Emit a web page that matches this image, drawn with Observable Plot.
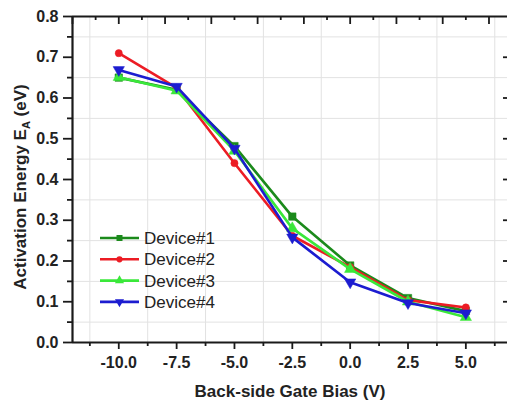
<!DOCTYPE html>
<html>
<head>
<meta charset="utf-8">
<script src="https://cdn.jsdelivr.net/npm/d3@7"></script>
<script src="https://cdn.jsdelivr.net/npm/@observablehq/plot@0.6"></script>
<style>
  html, body { margin: 0; padding: 0; background: #fff; overflow: hidden; }
  #chart { position: relative; width: 507px; height: 404px; }
  svg { font-family: "Liberation Sans", Arial, sans-serif; }
</style>
</head>
<body>
<div id="chart"></div>
<script>
// ---- data ----
const bias = [-10, -7.5, -5, -2.5, 0, 2.5, 5];
const device1 = [0.650, 0.620, 0.482, 0.309, 0.189, 0.109, 0.077];
const device2 = [0.710, 0.625, 0.440, 0.262, 0.185, 0.104, 0.086];
const device3 = [0.651, 0.618, 0.470, 0.280, 0.180, 0.100, 0.062];
const device4 = [0.669, 0.628, 0.476, 0.258, 0.148, 0.097, 0.072];
const deviceNames = ["Device#1", "Device#2", "Device#3", "Device#4"];
const deviceColors = ["#1b8a1b", "#ec1c24", "#3ae83a", "#1c1cd0"];

const xMajorTicks = [-10, -7.5, -5, -2.5, 0, 2.5, 5];
const xMinorTicks = [-11.25, -8.75, -6.25, -3.75, -1.25, 1.25, 3.75, 6.25];
const xTopMajor = [-12, -10, -8, -6, -4, -2, 0, 2, 4, 6];
const xTopMinor = [-11, -9, -7, -5, -3, -1, 1, 3, 5];
const yMajorTicks = [0, 0.1, 0.2, 0.3, 0.4, 0.5, 0.6, 0.7, 0.8];
const yMinorTicks = [0.05, 0.15, 0.25, 0.35, 0.45, 0.55, 0.65, 0.75];
const yRightTicks = [0.1, 0.2, 0.3, 0.4, 0.5, 0.6, 0.7];
const xGridLines = xMinorTicks;
const yGridLines = yMinorTicks;

const xTitle = "Back-side Gate Bias (V)";

// ---- layout ----
const W = 507, H = 404;
const mL = 72, mR = 0, mT = 16, mB = 62;
const plotW = W - mL - mR, plotH = H - mT - mB;

const series = [device1, device2, device3, device4];
const rows = [];
series.forEach((vals, i) => vals.forEach((v, j) => rows.push({device: deviceNames[i], x: bias[j], y: v})));

const sqrt3 = Math.sqrt(3);
const triangleDown = {
  draw(context, size) {
    const y = -Math.sqrt(size / (sqrt3 * 3));
    context.moveTo(0, -y * 2);
    context.lineTo(-sqrt3 * y, y);
    context.lineTo(sqrt3 * y, y);
    context.closePath();
  }
};
const symbols = ["square", "circle", "triangle", triangleDown];

const fmt = d => d.toFixed(1);
const axisColor = "#1a1a1a";

const marks = [
  Plot.gridX(xGridLines, {stroke: "#e2e2e2", strokeOpacity: 1, strokeWidth: 1}),
  Plot.gridY(yGridLines, {stroke: "#e2e2e2", strokeOpacity: 1, strokeWidth: 1}),
];
deviceNames.forEach((name, i) => {
  const d = rows.filter(r => r.device === name);
  marks.push(Plot.line(d, {x: "x", y: "y", stroke: deviceColors[i], strokeWidth: 2.6}));
  marks.push(Plot.dot(d, {x: "x", y: "y", fill: deviceColors[i], stroke: deviceColors[i], strokeWidth: 0.5, symbol: symbols[i], r: i === 1 ? 3.6 : 4.2}));
});
marks.push(
  // bottom axis
  Plot.axisX(xMajorTicks, {anchor: "bottom", tickSize: 7, tickPadding: 7, tickFormat: fmt, fontSize: 16, fontWeight: "bold", fill: "#222", stroke: axisColor, strokeWidth: 1.8, label: null}),
  Plot.axisX(xMinorTicks, {anchor: "bottom", tickSize: 4, tickFormat: () => "", stroke: axisColor, strokeWidth: 1.8, label: null}),
  // left axis
  Plot.axisY(yMajorTicks, {anchor: "left", tickSize: 9, tickPadding: 5, tickFormat: fmt, fontSize: 16, fontWeight: "bold", fill: "#222", stroke: axisColor, strokeWidth: 1.8, label: null}),
  Plot.axisY(yMinorTicks, {anchor: "left", tickSize: 5, tickFormat: () => "", stroke: axisColor, strokeWidth: 1.8, label: null}),
  // top axis (inward ticks)
  Plot.tickX(xTopMajor, {x: d => d, insetBottom: plotH - 8, stroke: axisColor, strokeWidth: 1.8}),
  Plot.tickX(xTopMinor, {x: d => d, insetBottom: plotH - 4, stroke: axisColor, strokeWidth: 1.8}),
  // right axis ticks (inward)
  Plot.tickY(yRightTicks, {y: d => d, insetLeft: plotW - 4, stroke: axisColor, strokeWidth: 1.8}),
  // frame lines
  Plot.ruleY([0], {stroke: axisColor, strokeWidth: 2.2}),
  Plot.ruleY([0.8], {stroke: axisColor, strokeWidth: 2.2}),
  Plot.ruleX([-12], {stroke: axisColor, strokeWidth: 2.2}),
  // x title
  Plot.text([xTitle], {frameAnchor: "bottom", dy: 49, lineAnchor: "middle", fontSize: 17, fontWeight: "bold", fill: "#222"})
);

const chart = Plot.plot({
  width: W, height: H,
  marginLeft: mL, marginRight: mR, marginTop: mT, marginBottom: mB,
  x: {domain: [-12, 6.8], axis: null},
  y: {domain: [0, 0.8], axis: null},
  style: {fontFamily: "'Liberation Sans', Arial, sans-serif", overflow: "visible"},
  marks
});
document.getElementById("chart").appendChild(chart);

// ---- y axis title with subscript ----
const svg = d3.select(chart);
const yt = svg.append("text")
  .attr("transform", `translate(26,${mT + plotH / 2 + 8}) rotate(-90)`)
  .attr("text-anchor", "middle")
  .attr("font-size", 17).attr("font-weight", "bold").attr("fill", "#222");
yt.append("tspan").text("Activation Energy E");
yt.append("tspan").attr("font-size", 11).attr("dy", 4).text("A");
yt.append("tspan").attr("dy", -4).text(" (eV)");

// ---- legend ----
const lg = svg.append("g").attr("transform", "translate(100,238)").attr("text-anchor", "start");
deviceNames.forEach((name, i) => {
  const g = lg.append("g").attr("transform", `translate(0,${i * 21.3})`);
  g.append("line").attr("x1", 0).attr("x2", 39).attr("y1", 0).attr("y2", 0)
    .attr("stroke", deviceColors[i]).attr("stroke-width", 2.6);
  const sym = [d3.symbolSquare, d3.symbolCircle, d3.symbolTriangle, triangleDown][i];
  g.append("path").attr("transform", "translate(19.5,0)")
    .attr("d", d3.symbol(sym, i === 1 ? 30 : 36)()).attr("fill", deviceColors[i]);
  g.append("text").attr("x", 44).attr("y", 0).attr("dy", "0.35em")
    .attr("text-anchor", "start")
    .attr("font-size", 17).attr("fill", "#222").text(name);
});
</script>
</body>
</html>
